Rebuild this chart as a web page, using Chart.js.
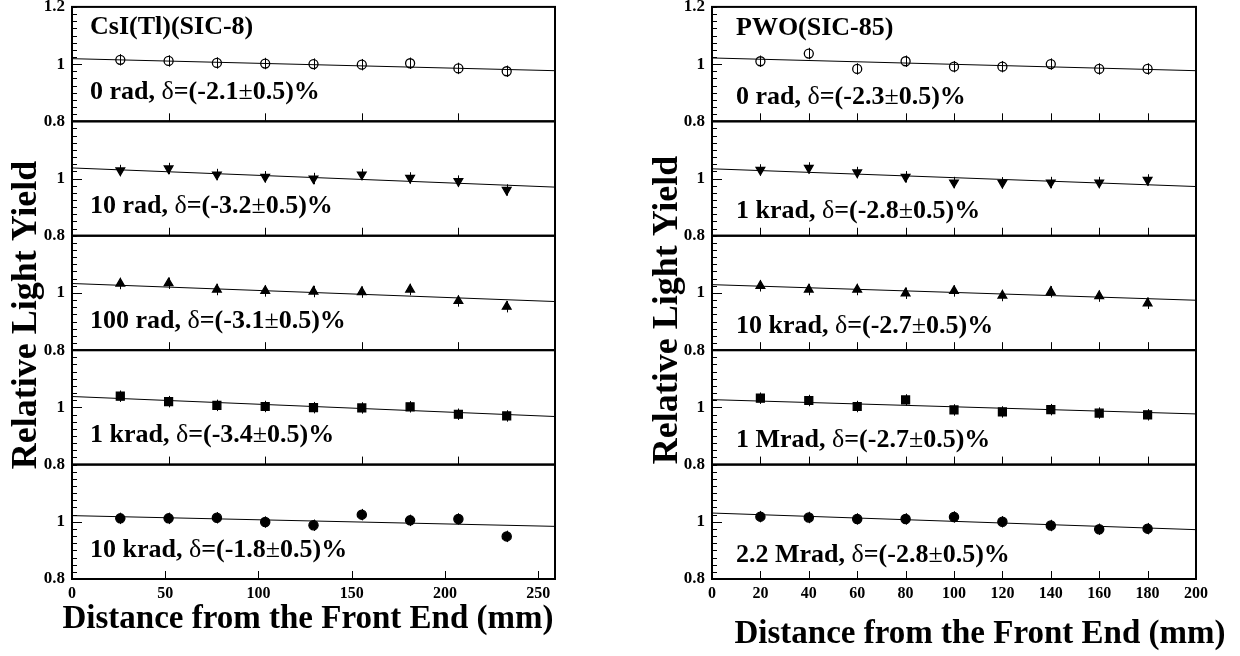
<!doctype html>
<html lang="en">
<head>
<meta charset="utf-8">
<title>Relative Light Yield vs Distance</title>
<script src="https://cdn.jsdelivr.net/npm/chart.js@4.4.1/dist/chart.umd.min.js"></script>
<style>
  body { margin: 0; background: #fff; }
  .col { position: absolute; top: 0; width: 620px; height: 656px; }
</style>
</head>
<body>
<div class="col" style="left:0"><canvas id="csi" width="620" height="656"></canvas></div>
<div class="col" style="left:620px"><canvas id="pwo" width="620" height="656"></canvas></div>

<script>
// distance from the front end (mm)
var csiX = [25.9, 51.8, 77.7, 103.6, 129.5, 155.4, 181.3, 207.2, 233.1];
var pwoX = [20, 40, 60, 80, 100, 120, 140, 160, 180];

// CsI(Tl) SIC-8, relative light yield per dose
var csi0    = [1.015, 1.011, 1.004, 1.002, 1.000, 0.998, 1.003, 0.985, 0.975];
var csi10   = [1.028, 1.035, 1.014, 1.006, 1.000, 1.014, 1.002, 0.991, 0.960];
var csi100  = [1.033, 1.034, 1.012, 1.007, 1.005, 1.003, 1.012, 0.972, 0.952];
var csi1k   = [1.039, 1.020, 1.007, 1.003, 0.999, 0.998, 1.002, 0.976, 0.970];
var csi10k  = [1.012, 1.012, 1.014, 0.999, 0.988, 1.025, 1.005, 1.010, 0.949];
var csiErr  = [0.02, 0.02, 0.02, 0.02, 0.02, 0.02, 0.02, 0.02, 0.02];

// PWO SIC-85
var pwo0    = [1.010, 1.037, 0.983, 1.010, 0.991, 0.991, 1.000, 0.983, 0.983];
var pwo1k   = [1.030, 1.037, 1.021, 1.006, 0.986, 0.985, 0.986, 0.986, 0.995];
var pwo10k  = [1.025, 1.012, 1.012, 0.999, 1.007, 0.991, 1.004, 0.989, 0.964];
var pwo1M   = [1.032, 1.024, 1.003, 1.026, 0.991, 0.984, 0.992, 0.980, 0.974];
var pwo22M  = [1.018, 1.015, 1.010, 1.010, 1.017, 1.000, 0.987, 0.974, 0.976];
var pwoErr  = [0.02, 0.02, 0.02, 0.02, 0.02, 0.02, 0.02, 0.02, 0.02];

// linear fits: value at x = 0 and at the end of the axis, one per panel
var csiFitStart = [1.019, 1.037, 1.033, 1.038, 1.0215];
var csiFitEnd   = [0.977, 0.970, 0.970, 0.968, 0.984];
var pwoFitStart = [1.0215, 1.034, 1.029, 1.027, 1.0306];
var pwoFitEnd   = [0.977, 0.972, 0.9745, 0.977, 0.9725];

var csiLabels = ["0 rad, δ=(-2.1±0.5)%", "10 rad, δ=(-3.2±0.5)%", "100 rad, δ=(-3.1±0.5)%",
                 "1 krad, δ=(-3.4±0.5)%", "10 krad, δ=(-1.8±0.5)%"];
var pwoLabels = ["0 rad, δ=(-2.3±0.5)%", "1 krad, δ=(-2.8±0.5)%", "10 krad, δ=(-2.7±0.5)%",
                 "1 Mrad, δ=(-2.7±0.5)%", "2.2 Mrad, δ=(-2.8±0.5)%"];

// tick marks on the inner panels (no labels)
var csiInnerTicks = [51.8, 103.6, 155.4, 207.2];
var pwoInnerTicks = [20, 40, 60, 80, 100, 120, 140, 160, 180];

var SERIF = '"Liberation Serif", "Times New Roman", serif';

// marker per panel, top to bottom
var markers = [
  { style: 'circle',   radius: 4.5, fill: false },
  { style: 'triangle', radius: 5,   fill: true, rotation: 180 },
  { style: 'triangle', radius: 5,   fill: true },
  { style: 'rect',     radius: 5.6, fill: true },
  { style: 'circle',   radius: 4.6, fill: true }
];

function yScale(i, width) {
  return {
    type: 'linear', position: 'left', stack: 'col', stackWeight: 1,
    min: 0.8, max: 1.2,
    ticks: {
      stepSize: 0.025, autoSkip: false, padding: 7, color: '#000',
      font: { family: SERIF, size: 17, weight: 'bold' },
      callback: function (v) {
        if (Math.abs(v - 0.8) < 1e-6) return '0.8';
        if (Math.abs(v - 1) < 1e-6) return '1';
        if (i === 0 && Math.abs(v - 1.2) < 1e-6) return '1.2';
        return '';
      }
    },
    grid: { display: false, drawTicks: false },
    border: { display: false },
    afterFit: function (s) { s.width = width; s.paddingTop = 0; s.paddingBottom = 0; }
  };
}

function line(ctx, x1, y1, x2, y2) {
  ctx.beginPath(); ctx.moveTo(x1, y1); ctx.lineTo(x2, y2); ctx.stroke();
}

// bold text, but the Greek/symbol glyphs in regular weight like the original
function mixedText(ctx, str, x, y, size) {
  var runs = str.split(/([δ±])/);
  runs.forEach(function (r) {
    if (!r) return;
    ctx.font = (/[δ±]/.test(r) ? '' : 'bold ') + size + 'px ' + SERIF;
    ctx.fillText(r, x, y);
    x += ctx.measureText(r).width;
  });
}

function makeDecor(o) {
  return {
    id: 'decor',
    beforeDatasetsDraw: function (chart) {
      // error bars
      var ctx = chart.ctx, xs = chart.scales.x;
      ctx.save();
      ctx.strokeStyle = '#000'; ctx.lineWidth = 1;
      chart.data.datasets.forEach(function (ds) {
        if (!ds.err) return;
        var ys = chart.scales[ds.yAxisID];
        ds.data.forEach(function (p, j) {
          var px = Math.round(xs.getPixelForValue(p.x)) + 0.5;
          line(ctx, px, ys.getPixelForValue(p.y - ds.err[j]), px, ys.getPixelForValue(p.y + ds.err[j]));
        });
      });
      ctx.restore();
    },
    afterDraw: function (chart) {
      var ctx = chart.ctx, xs = chart.scales.x, a = chart.chartArea;
      ctx.save();
      ctx.strokeStyle = '#000';
      ctx.fillStyle = '#000';
      for (var i = 0; i < 5; i++) {
        var s = chart.scales['p' + i];
        ctx.lineWidth = 1;
        s.ticks.forEach(function (t) {
          var y = Math.round(s.getPixelForValue(t.value)) + 0.5;
          var major = Math.abs(t.value - 1) < 1e-6;
          line(ctx, a.left, y, a.left + (major ? 10 : 5), y);
        });
        var xt = i === 4 ? xs.ticks.map(function (t) { return t.value; }) : o.innerTicks;
        xt.forEach(function (v) {
          var x = Math.round(xs.getPixelForValue(v)) + 0.5;
          line(ctx, x, s.bottom, x, s.bottom - 8);
        });
        ctx.lineWidth = 2;
        ctx.strokeRect(a.left, s.top, a.right - a.left, s.bottom - s.top);

        ctx.textAlign = 'left';
        ctx.textBaseline = 'alphabetic';
        mixedText(ctx, o.labels[i], a.left + o.textDx, s.top + o.textDy, 26);
        if (i === 0) mixedText(ctx, o.header, a.left + o.textDx, s.top + o.headDy, 26);
      }
      // axis titles
      ctx.font = 'bold 33px ' + SERIF;
      ctx.textAlign = 'center';
      ctx.fillText('Distance from the Front End (mm)', o.xTitle[0], o.xTitle[1]);
      ctx.font = 'bold 36px ' + SERIF;
      ctx.translate(o.yTitle[0], o.yTitle[1]);
      ctx.rotate(-Math.PI / 2);
      ctx.fillText('Relative Light Yield', 0, 0);
      ctx.restore();
    }
  };
}

function buildColumn(id, o) {
  var scales = {
    x: {
      type: 'linear', position: 'bottom', min: 0, max: o.xMax,
      ticks: {
        stepSize: o.xStep, includeBounds: false, autoSkip: false, maxRotation: 0,
        padding: 5, color: '#000', font: { family: SERIF, size: 16, weight: 'bold' }
      },
      grid: { display: false, drawTicks: false },
      border: { display: false },
      afterFit: function (s) { s.height = 77; s.paddingLeft = 0; s.paddingRight = 0; }
    }
  };
  // bottom panel first: later stacked axes go on top
  for (var i = 4; i >= 0; i--) scales['p' + i] = yScale(i, o.yWidth);

  var datasets = [];
  o.series.forEach(function (vals, i) {
    var m = markers[i];
    datasets.push({
      data: o.x.map(function (x, j) { return { x: x, y: vals[j] }; }),
      err: o.err, yAxisID: 'p' + i,
      pointStyle: m.style, rotation: m.rotation || 0, pointRadius: m.radius,
      pointBackgroundColor: m.fill ? '#000' : 'rgba(0,0,0,0)',
      pointBorderColor: '#000', pointBorderWidth: 1.3
    });
    datasets.push({
      data: [{ x: 0, y: o.fitStart[i] }, { x: o.xMax, y: o.fitEnd[i] }],
      yAxisID: 'p' + i, showLine: true, borderColor: '#000', borderWidth: 1, pointRadius: 0
    });
  });

  return new Chart(document.getElementById(id), {
    type: 'scatter',
    data: { datasets: datasets },
    options: {
      responsive: false, animation: false, devicePixelRatio: 1,
      layout: { padding: { left: 0, top: 6, right: o.padRight, bottom: 0 } },
      scales: scales,
      plugins: { legend: { display: false }, tooltip: { enabled: false } }
    },
    plugins: [makeDecor(o)]
  });
}

buildColumn('csi', {
  x: csiX, series: [csi0, csi10, csi100, csi1k, csi10k], err: csiErr,
  fitStart: csiFitStart, fitEnd: csiFitEnd, labels: csiLabels, header: 'CsI(Tl)(SIC-8)',
  innerTicks: csiInnerTicks, xMax: 259, xStep: 50,
  yWidth: 72, padRight: 65, textDx: 18, textDy: 92, headDy: 27,
  xTitle: [308, 628], yTitle: [36, 315]
});

buildColumn('pwo', {
  x: pwoX, series: [pwo0, pwo1k, pwo10k, pwo1M, pwo22M], err: pwoErr,
  fitStart: pwoFitStart, fitEnd: pwoFitEnd, labels: pwoLabels, header: 'PWO(SIC-85)',
  innerTicks: pwoInnerTicks, xMax: 200, xStep: 20,
  yWidth: 92, padRight: 44, textDx: 24, textDy: 97, headDy: 28,
  xTitle: [360, 643], yTitle: [57, 310]
});
</script>
</body>
</html>
